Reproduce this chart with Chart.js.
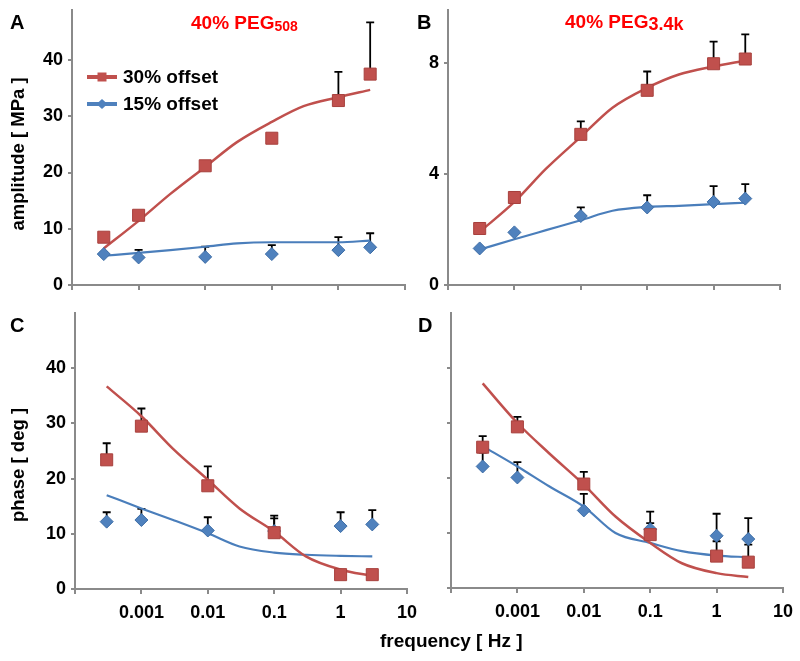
<!DOCTYPE html>
<html>
<head>
<meta charset="utf-8">
<script src="https://cdn.jsdelivr.net/npm/chart.js@4.4.0/dist/chart.umd.min.js"></script>
<style>
body{margin:0;background:#fff;width:800px;height:661px;position:relative;overflow:hidden;font-family:"Liberation Sans",Arial,sans-serif;font-weight:bold}
canvas{position:absolute}
.t{position:absolute;line-height:1;white-space:nowrap;color:#000}
.red{color:#ff0000}
.rot{transform:translate(-50%,-50%) rotate(-90deg)}
</style>
</head>
<body>
<canvas id="pA" width="420" height="300" style="left:0;top:0"></canvas>
<canvas id="pB" width="400" height="300" style="left:400px;top:0"></canvas>
<canvas id="pC" width="420" height="361" style="left:0;top:300px"></canvas>
<canvas id="pD" width="400" height="361" style="left:400px;top:300px"></canvas>

<div class="t" style="left:10px;top:12px;font-size:20px">A</div>
<div class="t" style="left:417px;top:12px;font-size:20px">B</div>
<div class="t" style="left:10px;top:315px;font-size:20px">C</div>
<div class="t" style="left:418px;top:315px;font-size:20px">D</div>

<div class="t red" style="left:191px;top:13px;font-size:19px">40% PEG<span style="font-size:14px;position:relative;top:2px">508</span></div>
<div class="t red" style="left:565px;top:12px;font-size:19px">40% PEG<span style="font-size:18px;position:relative;top:2px">3.4k</span></div>

<div class="t rot" style="left:18px;top:154px;font-size:18.5px">amplitude [ MPa ]</div>
<div class="t rot" style="left:18px;top:465px;font-size:18.5px">phase [ deg ]</div>
<div class="t" style="left:380px;top:631px;font-size:19px">frequency [ Hz ]</div>

<script>
// frequencies (Hz)
var freq = [0.0003, 0.001, 0.01, 0.1, 1, 3];
var fitFreq = [0.0003, 0.001, 0.003, 0.01, 0.03, 0.1, 0.3, 1, 3];
var freqTicks = [0.0001, 0.001, 0.01, 0.1, 1, 10];
var freqLabels = ['', '0.001', '0.01', '0.1', '1', '10'];

// A: amplitude, 40% PEG508 (MPa)
var ampA30 = [8.5, 12.4, 21.2, 26.1, 32.8, 37.5];
var ampA30Err = [0.2, 0.3, 0.4, 0.6, 5.1, 9.2];
var ampA30Fit = [6.5, 11.4, 16.2, 21, 25.4, 29, 31.8, 33.4, 34.7];
var ampA15 = [5.5, 4.9, 5.0, 5.5, 6.2, 6.7];
var ampA15Err = [0.3, 1.35, 1.8, 1.6, 2.3, 2.5];
var ampA15Fit = [5.2, 5.7, 6.2, 6.8, 7.4, 7.6, 7.6, 7.6, 7.9];

// B: amplitude, 40% PEG3.4k (MPa)
var ampB30 = [2.04, 3.16, 5.44, 7.03, 7.99, 8.16];
var ampB30Err = [0.1, 0.2, 0.47, 0.68, 0.8, 0.89];
var ampB30Fit = [1.92, 3.0, 4.2, 5.35, 6.4, 7.12, 7.6, 7.89, 8.1];
var ampB15 = [1.32, 1.9, 2.49, 2.8, 3.0, 3.12];
var ampB15Err = [0.05, 0.05, 0.31, 0.44, 0.57, 0.52];
var ampB15Fit = [1.28, 1.65, 1.98, 2.34, 2.68, 2.82, 2.86, 2.92, 2.97];

// C: phase, 40% PEG508 (deg)
var phC30 = [23.4, 29.5, 18.7, 10.2, 2.6, 2.6];
var phC30Err = [3.0, 3.2, 3.5, 3.1, 0.3, 0.3];
var phC30Fit = [36.7, 31.3, 25.4, 19.8, 14.6, 10.4, 5.9, 3.5, 2.4];
var phC15 = [12.2, 12.5, 10.6, 10.5, 11.4, 11.7];
var phC15Err = [1.7, 2.0, 2.4, 2.3, 2.5, 2.6];
var phC15Fit = [17.0, 14.6, 12.5, 10.1, 7.7, 6.6, 6.2, 6.0, 5.9];

// D: phase, 40% PEG3.4k (deg)
var phD30 = [25.6, 29.3, 18.9, 9.7, 5.8, 4.7];
var phD30Err = [2.0, 1.8, 2.2, 2.1, 2.7, 3.2];
var phD30Fit = [37.2, 30, 24.5, 18.8, 13, 8.2, 4.5, 2.7, 2.0];
var phD15 = [22.1, 20.1, 14.1, 10.7, 9.5, 8.9];
var phD15Err = [2.5, 2.8, 3.0, 3.2, 4.0, 3.8];
var phD15Fit = [25.8, 22.1, 18.5, 14.8, 10, 8.2, 6.7, 5.9, 5.6];

var ampATicks = [0, 10, 20, 30, 40];
var ampBTicks = [0, 4, 8];
var phaseTicks = [0, 10, 20, 30, 40];

var RED = '#C0504D', BLUE = '#4F81BD', AXIS = '#8a8a8a';
var FONT = {family: '"Liberation Sans", Arial, sans-serif', size: 18, weight: 'bold'};

function pts(xs, ys) {
  return xs.map(function (x, i) { return {x: x, y: ys[i]}; });
}

// upward error bars, drawn under the markers
var errorBars = {
  id: 'errorBars',
  beforeDatasetsDraw: function (chart) {
    var ctx = chart.ctx, sx = chart.scales.x, sy = chart.scales.y;
    ctx.save();
    ctx.strokeStyle = '#000';
    ctx.lineWidth = 1.8;
    chart.data.datasets.forEach(function (ds) {
      if (!ds.errUp) return;
      ds.data.forEach(function (p, i) {
        var px = sx.getPixelForValue(p.x);
        var y0 = sy.getPixelForValue(p.y);
        var y1 = sy.getPixelForValue(p.y + ds.errUp[i]);
        ctx.beginPath();
        ctx.moveTo(px, y0);
        ctx.lineTo(px, y1);
        ctx.moveTo(px - 4, y1);
        ctx.lineTo(px + 4, y1);
        ctx.stroke();
      });
    });
    ctx.restore();
  }
};

var legendA = {
  id: 'legendA',
  afterDraw: function (chart) {
    var ctx = chart.ctx;
    var rows = [[RED, 'rect', 77, '30% offset'], [BLUE, 'rectRot', 104, '15% offset']];
    ctx.save();
    rows.forEach(function (r) {
      ctx.strokeStyle = r[0];
      ctx.lineWidth = 4;
      ctx.beginPath();
      ctx.moveTo(87, r[2]);
      ctx.lineTo(117, r[2]);
      ctx.stroke();
      ctx.fillStyle = r[0];
      ctx.beginPath();
      if (r[1] === 'rect') {
        ctx.rect(97.5, r[2] - 4.5, 9, 9);
      } else {
        ctx.moveTo(96.5, r[2]); ctx.lineTo(102, r[2] - 5);
        ctx.lineTo(107.5, r[2]); ctx.lineTo(102, r[2] + 5);
        ctx.closePath();
      }
      ctx.fill();
      ctx.fillStyle = '#000';
      ctx.font = 'bold 19px "Liberation Sans", Arial, sans-serif';
      ctx.textBaseline = 'middle';
      ctx.fillText(r[3], 123, r[2] + 1);
    });
    ctx.restore();
  }
};

function makePanel(id, p) {
  var datasets = [
    {data: pts(freq, p.r), errUp: p.rErr, pointStyle: 'rect', pointRadius: 8.5,
     backgroundColor: RED, borderColor: '#A8403D', borderWidth: 1, showLine: false},
    {data: pts(freq, p.b), errUp: p.bErr, pointStyle: 'rectRot', pointRadius: 6.5,
     backgroundColor: BLUE, borderColor: '#3D6DA6', borderWidth: 1, showLine: false},
    {data: pts(fitFreq, p.rFit), showLine: true, pointRadius: 0, borderColor: RED,
     borderWidth: 2.5, cubicInterpolationMode: 'monotone', fill: false},
    {data: pts(fitFreq, p.bFit), showLine: true, pointRadius: 0, borderColor: '#4A7EBB',
     borderWidth: 2.2, cubicInterpolationMode: 'monotone', fill: false}
  ];
  return new Chart(document.getElementById(id), {
    type: 'scatter',
    data: {datasets: datasets},
    plugins: p.plugins,
    options: {
      responsive: false,
      animation: false,
      layout: {padding: {top: p.top, right: p.right, left: 0, bottom: 0}},
      plugins: {legend: {display: false}, tooltip: {enabled: false}},
      scales: {
        x: {
          type: 'logarithmic', min: 0.0001, max: 10,
          afterBuildTicks: function (s) { s.ticks = freqTicks.map(function (v) { return {value: v}; }); },
          afterFit: function (s) { s.height = p.xH; s.paddingLeft = 0; s.paddingRight = 0; },
          ticks: {display: p.xLabels, autoSkip: false, maxRotation: 0, color: '#000', font: FONT, padding: 8,
                  callback: function (v, i) { return freqLabels[i]; }},
          grid: {drawOnChartArea: false, drawTicks: true, tickLength: 5, color: AXIS, lineWidth: 2},
          border: {color: AXIS, width: 2}
        },
        y: {
          min: 0, max: p.yMax,
          afterBuildTicks: function (s) { s.ticks = p.yTicks.map(function (v) { return {value: v}; }); },
          afterFit: function (s) { s.width = p.yW; s.paddingTop = 0; s.paddingBottom = 0; },
          ticks: {display: p.yLabels, color: '#000', font: FONT, padding: 5},
          grid: {drawOnChartArea: false, drawTicks: true, tickLength: 4, color: AXIS, lineWidth: 2},
          border: {color: AXIS, width: 2}
        }
      }
    }
  });
}

makePanel('pA', {r: ampA30, rErr: ampA30Err, rFit: ampA30Fit, b: ampA15, bErr: ampA15Err, bFit: ampA15Fit,
  yMax: 48.9, yTicks: ampATicks, yW: 72, xH: 15, top: 10, right: 15, xLabels: false, yLabels: true,
  plugins: [errorBars, legendA]});
makePanel('pB', {r: ampB30, rErr: ampB30Err, rFit: ampB30Fit, b: ampB15, bErr: ampB15Err, bFit: ampB15Fit,
  yMax: 9.93, yTicks: ampBTicks, yW: 48, xH: 15, top: 10, right: 20, xLabels: false, yLabels: true,
  plugins: [errorBars]});
makePanel('pC', {r: phC30, rErr: phC30Err, rFit: phC30Fit, b: phC15, bErr: phC15Err, bFit: phC15Fit,
  yMax: 50, yTicks: phaseTicks, yW: 75, xH: 72, top: 13, right: 13, xLabels: true, yLabels: true,
  plugins: [errorBars]});
makePanel('pD', {r: phD30, rErr: phD30Err, rFit: phD30Fit, b: phD15, bErr: phD15Err, bFit: phD15Fit,
  yMax: 50, yTicks: phaseTicks, yW: 51, xH: 73, top: 13, right: 17, xLabels: true, yLabels: false,
  plugins: [errorBars]});
</script>
</body>
</html>
